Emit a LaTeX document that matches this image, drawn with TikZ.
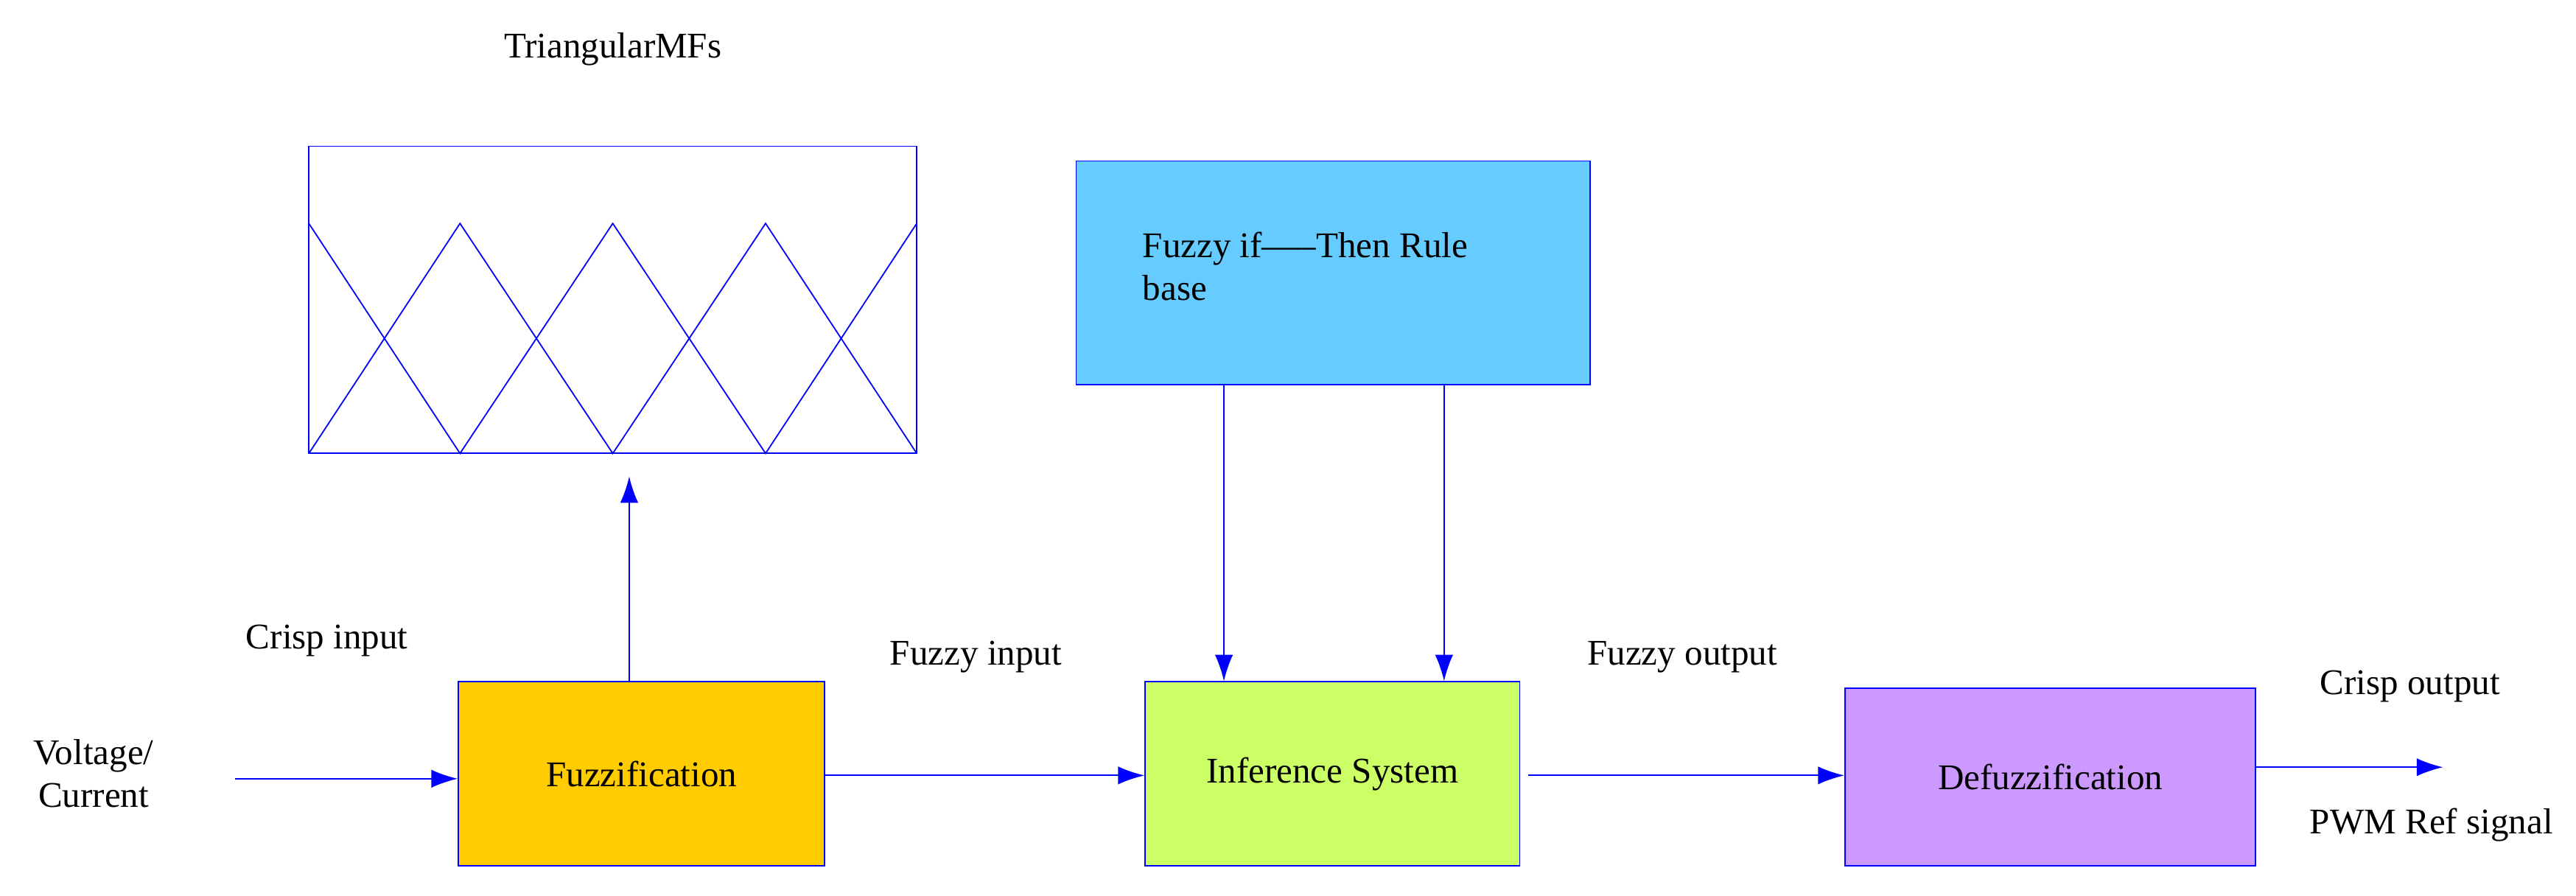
\documentclass[tikz,border=0pt]{standalone}
\usepackage{fontspec}
\setmainfont{Liberation Serif}
\usetikzlibrary{arrows.meta}
\definecolor{lb}{HTML}{66CCFF}
\definecolor{yl}{HTML}{FFCC00}
\definecolor{gr}{HTML}{CCFF66}
\definecolor{pu}{HTML}{CC99FF}
\begin{document}
\begin{tikzpicture}[x=1pt,y=-1pt,
 box/.style={draw=blue,line width=0.8pt,inner sep=0pt},
 lbl/.style={font=\fontsize{22}{26}\selectfont,align=center},
 arr/.style={draw=blue,line width=0.9pt,-{Latex[length=16pt,width=11pt]}}]
\useasboundingbox (0,0) rectangle (1568,545);
\node[box,minimum width=370pt,minimum height=187pt] (mf) at (373,182.5) {};
\draw[blue,line width=0.8pt] (188,276)--(280,136)--(373,276)--(466,136)--(558,276);
\draw[blue,line width=0.8pt] (188,136)--(280,276)--(373,136)--(466,276)--(558,136);
\node[lbl] (mft) at (373,30) {TriangularMFs};
\node[box,fill=lb,minimum width=313pt,minimum height=136pt] (rb) at (811.5,166) {};
\node[lbl,align=left,anchor=west] (rbt) at (692,162) {Fuzzy if-----Then Rule\\base};
\node[box,fill=yl,minimum width=223pt,minimum height=112pt,lbl] (fz) at (390.5,471) {Fuzzification};
\node[box,fill=gr,minimum width=228pt,minimum height=112pt,lbl] (inf) at (811,471) {Inference System};
\node[box,fill=pu,minimum width=250pt,minimum height=108pt,lbl] (df) at (1248,473) {Defuzzification};
\coordinate (in) at (143,474);
\coordinate (out) at (1487,467);
\draw[arr] (in) -- (fz.west|-in);
\draw[arr] (fz.north-|383,0) -- (383,290);
\draw[arr] (fz.east|-0,472) -- (inf.west|-0,472);
\draw[arr] (rb.south-|745,0) -- (inf.north-|745,0);
\draw[arr] (rb.south-|879,0) -- (inf.north-|879,0);
\draw[arr] (930,472) -- (df.west|-0,472);
\draw[arr] (df.east|-out) -- (out);
\node[lbl] (vc) at (57,471) {Voltage/\\Current};
\node[lbl] (ci) at (199,390) {Crisp input};
\node[lbl] (fi) at (594,400) {Fuzzy input};
\node[lbl] (fo) at (1024,400) {Fuzzy output};
\node[lbl] (co) at (1467,418) {Crisp output};
\node[lbl] (pwm) at (1480,502) {PWM Ref signal};
\end{tikzpicture}
\end{document}
